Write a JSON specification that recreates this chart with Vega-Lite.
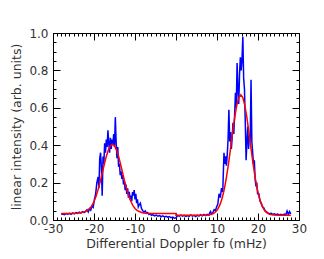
{
  "$schema": "https://vega.github.io/schema/vega-lite/v6.json",
  "autosize": "none",
  "width": 246,
  "height": 187,
  "padding": {"left": 53, "top": 33, "right": 25, "bottom": 39},
  "background": "white",
  "config": {
    "view": {"stroke": "black", "strokeWidth": 1},
    "font": "DejaVu Sans",
    "axis": {"grid": false, "domain": false, "tickColor": "black", "tickWidth": 1, "labelColor": "#333333", "titleColor": "#333333", "labelFont": "DejaVu Sans", "titleFont": "DejaVu Sans", "labelFontSize": 12, "titleFontSize": 12.5, "titleFontWeight": "normal"}
  },
  "datasets": {
    "blue": [
      {"x": -28.0, "y": 0.030}, {"x": -27.6, "y": 0.032}, {"x": -27.2, "y": 0.028}, {"x": -26.8, "y": 0.034}, {"x": -26.4, "y": 0.031}, {"x": -26.0, "y": 0.036}, {"x": -25.6, "y": 0.030}, {"x": -25.2, "y": 0.038}, {"x": -24.8, "y": 0.033}, {"x": -24.4, "y": 0.040}, {"x": -24.0, "y": 0.036}, {"x": -23.6, "y": 0.042}, {"x": -23.2, "y": 0.037}, {"x": -22.8, "y": 0.045}, {"x": -22.4, "y": 0.040}, {"x": -22.0, "y": 0.048}, {"x": -21.7, "y": 0.055}, {"x": -21.4, "y": 0.043}, {"x": -21.1, "y": 0.060}, {"x": -20.8, "y": 0.052}, {"x": -20.5, "y": 0.075}, {"x": -20.2, "y": 0.068}, {"x": -19.9, "y": 0.110}, {"x": -19.6, "y": 0.140}, {"x": -19.3, "y": 0.200}, {"x": -19.0, "y": 0.230}, {"x": -18.8, "y": 0.170}, {"x": -18.6, "y": 0.330}, {"x": -18.4, "y": 0.360}, {"x": -18.2, "y": 0.280}, {"x": -18.0, "y": 0.130}, {"x": -17.8, "y": 0.340}, {"x": -17.6, "y": 0.300}, {"x": -17.4, "y": 0.410}, {"x": -17.2, "y": 0.360}, {"x": -17.0, "y": 0.430}, {"x": -16.8, "y": 0.390}, {"x": -16.6, "y": 0.480}, {"x": -16.4, "y": 0.410}, {"x": -16.2, "y": 0.360}, {"x": -16.0, "y": 0.440}, {"x": -15.8, "y": 0.380}, {"x": -15.6, "y": 0.430}, {"x": -15.4, "y": 0.400}, {"x": -15.2, "y": 0.460}, {"x": -15.0, "y": 0.390}, {"x": -14.8, "y": 0.550}, {"x": -14.6, "y": 0.420}, {"x": -14.4, "y": 0.330}, {"x": -14.2, "y": 0.390}, {"x": -14.0, "y": 0.285}, {"x": -13.8, "y": 0.300}, {"x": -13.6, "y": 0.240}, {"x": -13.4, "y": 0.260}, {"x": -13.2, "y": 0.220}, {"x": -13.0, "y": 0.240}, {"x": -12.8, "y": 0.190}, {"x": -12.6, "y": 0.210}, {"x": -12.4, "y": 0.160}, {"x": -12.2, "y": 0.190}, {"x": -12.0, "y": 0.140}, {"x": -11.8, "y": 0.170}, {"x": -11.6, "y": 0.120}, {"x": -11.4, "y": 0.150}, {"x": -11.2, "y": 0.110}, {"x": -11.0, "y": 0.130}, {"x": -10.8, "y": 0.100}, {"x": -10.6, "y": 0.150}, {"x": -10.4, "y": 0.130}, {"x": -10.2, "y": 0.160}, {"x": -10.0, "y": 0.110}, {"x": -9.8, "y": 0.140}, {"x": -9.6, "y": 0.090}, {"x": -9.4, "y": 0.110}, {"x": -9.2, "y": 0.070}, {"x": -9.0, "y": 0.080}, {"x": -8.7, "y": 0.090}, {"x": -8.4, "y": 0.060}, {"x": -8.1, "y": 0.050}, {"x": -7.8, "y": 0.042}, {"x": -7.5, "y": 0.048}, {"x": -7.2, "y": 0.035}, {"x": -6.9, "y": 0.040}, {"x": -6.6, "y": 0.030}, {"x": -6.3, "y": 0.034}, {"x": -6.0, "y": 0.025}, {"x": -5.6, "y": 0.028}, {"x": -5.2, "y": 0.022}, {"x": -4.8, "y": 0.026}, {"x": -4.4, "y": 0.020}, {"x": -4.0, "y": 0.024}, {"x": -3.6, "y": 0.018}, {"x": -3.2, "y": 0.022}, {"x": -2.8, "y": 0.016}, {"x": -2.4, "y": 0.020}, {"x": -2.0, "y": 0.015}, {"x": -1.6, "y": 0.018}, {"x": -1.2, "y": 0.012}, {"x": -0.8, "y": 0.016}, {"x": -0.4, "y": 0.010}, {"x": 0.0, "y": 0.012}, {"x": 0.4, "y": 0.024}, {"x": 0.8, "y": 0.020}, {"x": 1.2, "y": 0.026}, {"x": 1.6, "y": 0.021}, {"x": 2.0, "y": 0.025}, {"x": 2.4, "y": 0.019}, {"x": 2.8, "y": 0.024}, {"x": 3.2, "y": 0.020}, {"x": 3.6, "y": 0.027}, {"x": 4.0, "y": 0.021}, {"x": 4.4, "y": 0.025}, {"x": 4.8, "y": 0.019}, {"x": 5.2, "y": 0.026}, {"x": 5.6, "y": 0.021}, {"x": 6.0, "y": 0.028}, {"x": 6.4, "y": 0.022}, {"x": 6.8, "y": 0.030}, {"x": 7.2, "y": 0.024}, {"x": 7.6, "y": 0.030}, {"x": 8.0, "y": 0.026}, {"x": 8.4, "y": 0.045}, {"x": 8.7, "y": 0.032}, {"x": 9.0, "y": 0.040}, {"x": 9.3, "y": 0.055}, {"x": 9.6, "y": 0.050}, {"x": 9.9, "y": 0.070}, {"x": 10.2, "y": 0.085}, {"x": 10.5, "y": 0.140}, {"x": 10.8, "y": 0.120}, {"x": 11.1, "y": 0.170}, {"x": 11.4, "y": 0.150}, {"x": 11.7, "y": 0.360}, {"x": 11.9, "y": 0.300}, {"x": 12.1, "y": 0.340}, {"x": 12.3, "y": 0.290}, {"x": 12.5, "y": 0.350}, {"x": 12.7, "y": 0.430}, {"x": 12.9, "y": 0.590}, {"x": 13.1, "y": 0.420}, {"x": 13.3, "y": 0.470}, {"x": 13.5, "y": 0.380}, {"x": 13.7, "y": 0.440}, {"x": 13.9, "y": 0.520}, {"x": 14.1, "y": 0.460}, {"x": 14.3, "y": 0.560}, {"x": 14.5, "y": 0.680}, {"x": 14.7, "y": 0.600}, {"x": 14.9, "y": 0.840}, {"x": 15.1, "y": 0.700}, {"x": 15.3, "y": 0.620}, {"x": 15.5, "y": 0.780}, {"x": 15.7, "y": 0.870}, {"x": 15.9, "y": 0.800}, {"x": 16.1, "y": 0.860}, {"x": 16.3, "y": 0.980}, {"x": 16.5, "y": 0.760}, {"x": 16.7, "y": 0.700}, {"x": 16.9, "y": 0.520}, {"x": 17.1, "y": 0.320}, {"x": 17.3, "y": 0.420}, {"x": 17.5, "y": 0.500}, {"x": 17.7, "y": 0.380}, {"x": 17.9, "y": 0.450}, {"x": 18.1, "y": 0.420}, {"x": 18.3, "y": 0.750}, {"x": 18.5, "y": 0.420}, {"x": 18.7, "y": 0.360}, {"x": 18.9, "y": 0.300}, {"x": 19.1, "y": 0.320}, {"x": 19.3, "y": 0.220}, {"x": 19.5, "y": 0.180}, {"x": 19.7, "y": 0.200}, {"x": 19.9, "y": 0.140}, {"x": 20.2, "y": 0.140}, {"x": 20.5, "y": 0.100}, {"x": 20.8, "y": 0.090}, {"x": 21.1, "y": 0.070}, {"x": 21.4, "y": 0.065}, {"x": 21.7, "y": 0.050}, {"x": 22.0, "y": 0.045}, {"x": 22.4, "y": 0.038}, {"x": 22.8, "y": 0.034}, {"x": 23.2, "y": 0.036}, {"x": 23.6, "y": 0.030}, {"x": 24.0, "y": 0.033}, {"x": 24.4, "y": 0.028}, {"x": 24.8, "y": 0.032}, {"x": 25.2, "y": 0.027}, {"x": 25.6, "y": 0.030}, {"x": 26.0, "y": 0.026}, {"x": 26.4, "y": 0.032}, {"x": 26.8, "y": 0.028}, {"x": 27.1, "y": 0.048}, {"x": 27.4, "y": 0.030}, {"x": 27.7, "y": 0.045}, {"x": 28.0, "y": 0.032}
    ],
    "red": [
      {"i": 1, "x": -28, "y": 0.035}, {"i": 2, "x": -26, "y": 0.035}, {"i": 3, "x": -24, "y": 0.036}, {"i": 4, "x": -22, "y": 0.045}, {"i": 5, "x": -21, "y": 0.062}, {"i": 6, "x": -20.5, "y": 0.077}, {"i": 7, "x": -20, "y": 0.099}, {"i": 8, "x": -19.5, "y": 0.127}, {"i": 9, "x": -19, "y": 0.163}, {"i": 10, "x": -18.5, "y": 0.204}, {"i": 11, "x": -18, "y": 0.250}, {"i": 12, "x": -17.5, "y": 0.297}, {"i": 13, "x": -17, "y": 0.340}, {"i": 14, "x": -16.5, "y": 0.374}, {"i": 15, "x": -16, "y": 0.397}, {"i": 16, "x": -15.5, "y": 0.405}, {"i": 17, "x": -15, "y": 0.397}, {"i": 18, "x": -14.5, "y": 0.374}, {"i": 19, "x": -14, "y": 0.340}, {"i": 20, "x": -13.5, "y": 0.297}, {"i": 21, "x": -13, "y": 0.250}, {"i": 22, "x": -12.5, "y": 0.204}, {"i": 23, "x": -12, "y": 0.163}, {"i": 24, "x": -11.5, "y": 0.127}, {"i": 25, "x": -11, "y": 0.099}, {"i": 26, "x": -10.5, "y": 0.077}, {"i": 27, "x": -10, "y": 0.062}, {"i": 28, "x": -9.5, "y": 0.051}, {"i": 29, "x": -9, "y": 0.045}, {"i": 30, "x": -8, "y": 0.038}, {"i": 31, "x": -7, "y": 0.036}, {"i": 32, "x": -6, "y": 0.035}, {"i": 33, "x": -4, "y": 0.035}, {"i": 34, "x": -2, "y": 0.035}, {"i": 35, "x": 0, "y": 0.035}, {"i": 36, "x": 0, "y": 0.025}, {"i": 37, "x": 2, "y": 0.025}, {"i": 38, "x": 4, "y": 0.025}, {"i": 39, "x": 6, "y": 0.025}, {"i": 40, "x": 7, "y": 0.025}, {"i": 41, "x": 8, "y": 0.027}, {"i": 42, "x": 9, "y": 0.033}, {"i": 43, "x": 9.5, "y": 0.040}, {"i": 44, "x": 10, "y": 0.052}, {"i": 45, "x": 10.3, "y": 0.062}, {"i": 46, "x": 10.8, "y": 0.086}, {"i": 47, "x": 11.3, "y": 0.120}, {"i": 48, "x": 11.8, "y": 0.167}, {"i": 49, "x": 12.3, "y": 0.228}, {"i": 50, "x": 12.8, "y": 0.300}, {"i": 51, "x": 13.3, "y": 0.382}, {"i": 52, "x": 13.8, "y": 0.467}, {"i": 53, "x": 14.3, "y": 0.546}, {"i": 54, "x": 14.8, "y": 0.612}, {"i": 55, "x": 15.3, "y": 0.655}, {"i": 56, "x": 15.8, "y": 0.670}, {"i": 57, "x": 16.3, "y": 0.655}, {"i": 58, "x": 16.8, "y": 0.612}, {"i": 59, "x": 17.3, "y": 0.546}, {"i": 60, "x": 17.8, "y": 0.467}, {"i": 61, "x": 18.3, "y": 0.382}, {"i": 62, "x": 18.8, "y": 0.300}, {"i": 63, "x": 19.3, "y": 0.228}, {"i": 64, "x": 19.8, "y": 0.167}, {"i": 65, "x": 20.3, "y": 0.120}, {"i": 66, "x": 20.8, "y": 0.086}, {"i": 67, "x": 21.3, "y": 0.062}, {"i": 68, "x": 21.8, "y": 0.046}, {"i": 69, "x": 22.3, "y": 0.037}, {"i": 70, "x": 22.8, "y": 0.031}, {"i": 71, "x": 23.8, "y": 0.027}, {"i": 72, "x": 25, "y": 0.025}, {"i": 73, "x": 28, "y": 0.025}
    ]
  },
  "resolve": {"axis": {"x": "independent", "y": "independent"}},
  "layer": [
    {
      "data": {"name": "blue"},
      "mark": {"type": "line", "color": "#0000ff", "strokeWidth": 1.5, "clip": true},
      "encoding": {
        "x": {"field": "x", "type": "quantitative", "scale": {"domain": [-30, 30], "nice": false, "zero": false},
          "axis": {"orient": "bottom", "values": [-30, -20, -10, 0, 10, 20, 30], "ticks": false, "labelPadding": 3, "labelExpr": "'' + datum.value", "labelFlush": false, "labelOverlap": false, "title": "Differential Doppler fᴅ (mHz)", "titlePadding": 3}},
        "y": {"field": "y", "type": "quantitative", "scale": {"domain": [0, 1], "nice": false, "zero": false},
          "axis": {"orient": "left", "values": [0, 0.2, 0.4, 0.6, 0.8, 1.0], "format": ".1f", "ticks": false, "labelPadding": 5, "labelFlush": false, "labelOverlap": false, "title": "linear intensity (arb. units)", "titlePadding": 5}}
      }
    },
    {
      "data": {"name": "red"},
      "mark": {"type": "line", "color": "#ff0000", "strokeWidth": 1.5, "clip": true},
      "encoding": {
        "x": {"field": "x", "type": "quantitative", "axis": {"orient": "bottom", "values": [-30, -20, -10, 0, 10, 20, 30], "tickSize": -7, "labels": false, "title": null}},
        "y": {"field": "y", "type": "quantitative", "axis": {"orient": "left", "values": [0, 0.2, 0.4, 0.6, 0.8, 1.0], "tickSize": -7, "labels": false, "title": null}},
        "order": {"field": "i", "type": "quantitative"}
      }
    },
    {
      "data": {"name": "red"},
      "mark": {"type": "line", "opacity": 0},
      "encoding": {
        "x": {"field": "x", "type": "quantitative", "axis": {"orient": "bottom", "values": [-29, -28, -27, -26, -25, -24, -23, -22, -21, -19, -18, -17, -16, -15, -14, -13, -12, -11, -9, -8, -7, -6, -5, -4, -3, -2, -1, 1, 2, 3, 4, 5, 6, 7, 8, 9, 11, 12, 13, 14, 15, 16, 17, 18, 19, 21, 22, 23, 24, 25, 26, 27, 28, 29], "tickSize": -3, "labels": false, "title": null}},
        "y": {"field": "y", "type": "quantitative", "axis": {"orient": "left", "values": [0.05, 0.1, 0.15, 0.25, 0.3, 0.35, 0.45, 0.5, 0.55, 0.65, 0.7, 0.75, 0.85, 0.9, 0.95], "tickSize": -3, "labels": false, "title": null}}
      }
    },
    {
      "data": {"name": "red"},
      "mark": {"type": "line", "opacity": 0},
      "encoding": {
        "x": {"field": "x", "type": "quantitative", "axis": {"orient": "top", "values": [-30, -20, -10, 0, 10, 20, 30], "tickSize": -7, "labels": false, "title": null}},
        "y": {"field": "y", "type": "quantitative", "axis": {"orient": "right", "values": [0, 0.2, 0.4, 0.6, 0.8, 1.0], "tickSize": -7, "labels": false, "title": null}}
      }
    },
    {
      "data": {"name": "red"},
      "mark": {"type": "line", "opacity": 0},
      "encoding": {
        "x": {"field": "x", "type": "quantitative", "axis": {"orient": "top", "values": [-29, -28, -27, -26, -25, -24, -23, -22, -21, -19, -18, -17, -16, -15, -14, -13, -12, -11, -9, -8, -7, -6, -5, -4, -3, -2, -1, 1, 2, 3, 4, 5, 6, 7, 8, 9, 11, 12, 13, 14, 15, 16, 17, 18, 19, 21, 22, 23, 24, 25, 26, 27, 28, 29], "tickSize": -3, "labels": false, "title": null}},
        "y": {"field": "y", "type": "quantitative", "axis": {"orient": "right", "values": [0.05, 0.1, 0.15, 0.25, 0.3, 0.35, 0.45, 0.5, 0.55, 0.65, 0.7, 0.75, 0.85, 0.9, 0.95], "tickSize": -3, "labels": false, "title": null}}
      }
    }
  ]
}
